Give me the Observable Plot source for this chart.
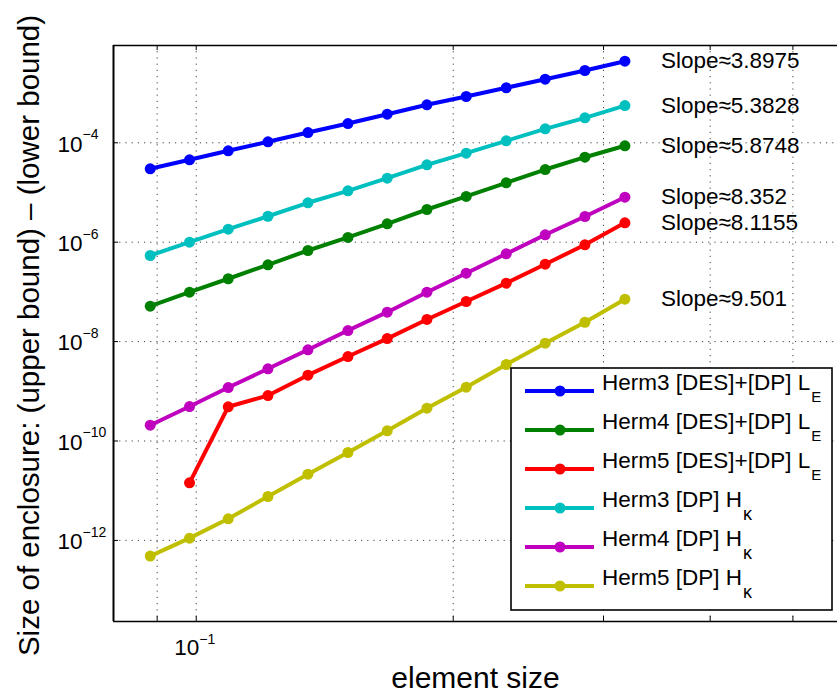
<!DOCTYPE html>
<html><head><meta charset="utf-8">
<script src="https://cdn.jsdelivr.net/npm/d3@7"></script>
<script src="https://cdn.jsdelivr.net/npm/@observablehq/plot@0.6"></script>
<style>
html,body{margin:0;padding:0;background:#fff;overflow:hidden}
#wrap{position:relative;width:837px;height:695px;overflow:hidden;font-family:"Liberation Sans",Arial,Helvetica,sans-serif}
#wrap svg{overflow:hidden}
#legend{position:absolute;left:0;top:0;pointer-events:none}
</style></head><body><div id="wrap"></div>
<script>
// element sizes (x)
const elementSize = [0.08833, 0.09821, 0.10902, 0.12134, 0.13516, 0.15056, 0.16739, 0.18631, 0.20714, 0.23074, 0.25634, 0.28531, 0.31781];
// series values (y): size of enclosure
const herm3LE = [3.00e-5, 4.55e-5, 6.90e-5, 1.047e-4, 1.61e-4, 2.44e-4, 3.76e-4, 5.82e-4, 8.55e-4, 1.28e-3, 1.905e-3, 2.85e-3, 4.39e-3];
const herm4LE = [5.15e-8, 9.86e-8, 1.84e-7, 3.51e-7, 6.81e-7, 1.245e-6, 2.34e-6, 4.55e-6, 8.32e-6, 1.57e-5, 2.90e-5, 5.13e-5, 8.71e-5];
const herm5LE = [null, 1.44e-11, 4.88e-10, 8.22e-10, 2.11e-9, 5.01e-9, 1.15e-8, 2.79e-8, 6.41e-8, 1.50e-7, 3.61e-7, 8.87e-7, 2.45e-6];
const herm3HK = [5.40e-7, 1.00e-6, 1.83e-6, 3.33e-6, 6.21e-6, 1.08e-5, 1.94e-5, 3.61e-5, 6.18e-5, 1.096e-4, 1.91e-4, 3.18e-4, 5.62e-4];
const herm4HK = [2.08e-10, 4.94e-10, 1.19e-9, 2.84e-9, 6.84e-9, 1.67e-8, 3.91e-8, 9.86e-8, 2.38e-7, 5.85e-7, 1.41e-6, 3.29e-6, 8.04e-6];
const herm5HK = [4.83e-13, 1.11e-12, 2.72e-12, 7.64e-12, 2.15e-11, 5.87e-11, 1.60e-10, 4.57e-10, 1.21e-9, 3.46e-9, 9.29e-9, 2.45e-8, 7.13e-8];

const legendNames = ["Herm3 [DES]+[DP] L", "Herm4 [DES]+[DP] L", "Herm5 [DES]+[DP] L", "Herm3 [DP] H", "Herm4 [DP] H", "Herm5 [DP] H"];
const legendSubs = ["E", "E", "E", "\u03ba", "\u03ba", "\u03ba"];
const colors = ["#0000ff", "#008000", "#ff0000", "#00bfbf", "#bf00bf", "#bfbf00"];
const seriesValues = [herm3LE, herm4LE, herm5LE, herm3HK, herm4HK, herm5HK];
const slopeLabels = ["Slope\u22483.8975", "Slope\u22485.8748", "Slope\u22488.1155", "Slope\u22485.3828", "Slope\u22488.352", "Slope\u22489.501"];

// tick labels
const xGridTicks = [0.09, 0.1, 0.2, 0.3, 0.4, 0.5];
const xLabelTicks = [0.1];
const xLabelExp = ["\u22121"];
const yTicks = [1e-4, 1e-6, 1e-8, 1e-10, 1e-12];
const yTickExp = ["\u22124", "\u22126", "\u22128", "\u221210", "\u221212"];
const xDomain = [0.08, 0.6];
const yDomain = [2.333e-14, 9.078e-3];

const W = 837, H = 695;
const mL = 113, mT = 45, mB = 74, mR = 0;
const innerH = H - mT - mB, innerW = W - mL - mR;
const FONT = "'Liberation Sans', Arial, Helvetica, sans-serif";

const series = seriesValues.map((vals, k) => ({
  color: colors[k], slope: slopeLabels[k],
  pts: vals.map((v, i) => ({x: elementSize[i], y: v, color: colors[k]})).filter(d => d.y != null)
}));
const lastPts = series.map(s => ({...s.pts[s.pts.length - 1], label: s.slope}));

const marks = [
  Plot.ruleX(xGridTicks, {x: d => d, stroke: "#000", strokeOpacity: 0.75, strokeDasharray: "1.2,5"}),
  Plot.ruleY(yTicks, {y: d => d, stroke: "#000", strokeOpacity: 0.75, strokeDasharray: "1.2,5"}),
  Plot.tickX(xGridTicks, {x: d => d, insetTop: innerH - 5, stroke: "#000"}),
  Plot.tickX(xGridTicks, {x: d => d, insetBottom: innerH - 5, stroke: "#000"}),
  Plot.tickY(yTicks, {y: d => d, insetRight: innerW - 5, stroke: "#000"}),
];
for (const s of series) {
  marks.push(Plot.line(s.pts, {x: "x", y: "y", stroke: s.color, strokeWidth: 4}));
  marks.push(Plot.dot(s.pts, {x: "x", y: "y", fill: s.color, r: 5.5}));
}
marks.push(
  Plot.ruleY([yDomain[0], yDomain[1]], {y: d => d, stroke: "#000", strokeWidth: 1.6}),
  Plot.ruleX([xDomain[0]], {x: d => d, stroke: "#000", strokeWidth: 2}),
  Plot.text(lastPts, {x: "x", y: "y", text: "label", dx: 36, textAnchor: "start", lineAnchor: "middle", fontSize: 22.5, fill: "#000"}),
  Plot.text(yTicks, {y: d => d, frameAnchor: "left", text: () => "10", textAnchor: "end", lineAnchor: "middle", dx: -31, dy: 1.5, fontSize: 22.5, fill: "#000"}),
  Plot.text(yTicks, {y: d => d, frameAnchor: "left", text: (d, i) => yTickExp[i], textAnchor: "start", lineAnchor: "middle", dx: -31, dy: -8, fontSize: 14, fill: "#000"}),
  Plot.text(xLabelTicks, {x: d => d, frameAnchor: "bottom", text: () => "10", textAnchor: "end", lineAnchor: "middle", dx: 3, dy: 26.5, fontSize: 22.5, fill: "#000"}),
  Plot.text(xLabelTicks, {x: d => d, frameAnchor: "bottom", text: (d, i) => xLabelExp[i], textAnchor: "start", lineAnchor: "middle", dx: 3, dy: 18, fontSize: 14, fill: "#000"}),
  Plot.text(["element size"], {frameAnchor: "bottom", text: d => d, textAnchor: "middle", lineAnchor: "middle", dy: 57, fontSize: 30, fill: "#000"}),
  Plot.text(["Size of enclosure: (upper bound) \u2013 (lower bound)"], {frameAnchor: "left", text: d => d, rotate: -90, textAnchor: "middle", lineAnchor: "middle", dx: -84, dy: 2, fontSize: 29.5, fill: "#000"})
);

const chart = Plot.plot({
  width: W, height: H,
  marginLeft: mL, marginRight: mR, marginTop: mT, marginBottom: mB,
  style: {fontFamily: FONT, background: "#fff", overflow: "hidden"},
  x: {type: "log", domain: xDomain, range: [113, 860], axis: null},
  y: {type: "log", domain: yDomain, axis: null},
  marks
});
const wrap = document.getElementById("wrap");
wrap.appendChild(chart);

// Legend overlay
const lg = d3.select(wrap).append("svg").attr("id", "legend").attr("width", W).attr("height", H);
lg.append("rect").attr("x", 511).attr("y", 368).attr("width", 321).attr("height", 242)
  .attr("fill", "#fff").attr("stroke", "#000").attr("stroke-width", 1.6);
legendNames.forEach((name, i) => {
  const cy = 391 + 39 * i;
  lg.append("line").attr("x1", 525).attr("x2", 594).attr("y1", cy).attr("y2", cy)
    .attr("stroke", colors[i]).attr("stroke-width", 4);
  lg.append("circle").attr("cx", 560).attr("cy", cy).attr("r", 5.5).attr("fill", colors[i]);
  const t = lg.append("text").attr("x", 602).attr("y", cy - 1.3)
    .attr("font-family", FONT).attr("font-size", 22.5).attr("fill", "#000");
  t.append("tspan").text(name);
  t.append("tspan").attr("dy", i < 3 ? 12 : 13).attr("dx", 1).attr("font-size", i < 3 ? 15 : 18).text(legendSubs[i]);
});
</script></body></html>
